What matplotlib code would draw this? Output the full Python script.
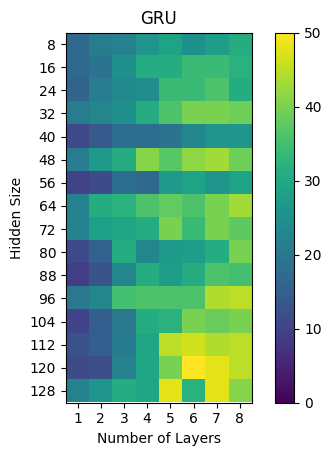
import matplotlib
matplotlib.use("Agg")
import matplotlib.pyplot as plt
import numpy as np

# Layers (columns) and hidden sizes (rows)
layers = [1, 2, 3, 4, 5, 6, 7, 8]
hidden_sizes = [8, 16, 24, 32, 40, 48, 56, 64, 72, 80, 88, 96, 104, 112, 120, 128]

# Values (rows = hidden size, columns = layers)
values = np.array([
    [17, 21, 22, 26, 29, 25, 28, 31],
    [17, 19, 25, 31, 31, 34, 34, 32],
    [16, 21, 24, 24.5, 34, 34, 36, 31],
    [21, 23, 25, 31, 36, 40, 40, 39],
    [11, 14, 18, 18, 19, 23, 26, 26],
    [21, 27, 31, 41, 37, 41.5, 43, 39],
    [10, 11.5, 18, 17, 27, 29, 26, 29],
    [22, 31, 32, 36, 38, 36, 40, 43],
    [22, 28.5, 29.5, 31, 40, 34, 40, 37.5],
    [11, 15.5, 31, 23, 27, 28, 31, 40],
    [9, 13, 23, 31, 28, 31, 36, 35],
    [20, 23, 35, 36, 36, 36, 44, 45],
    [10, 15, 20, 31, 32, 40, 38.5, 40],
    [12.5, 15, 20.5, 29.5, 45, 46.5, 44, 45],
    [11.5, 12, 22, 29.5, 40, 50, 48, 45],
    [22, 26, 31, 29.5, 48, 32, 48, 41],
])

W, H = 331, 455
fig = plt.figure(figsize=(W / 100, H / 100), dpi=100)
ax = fig.add_axes([66 / W, 1 - 402.5 / H, 185.5 / W, 370 / H])
cax = fig.add_axes([275.3 / W, 1 - 402.5 / H, 19 / W, 370 / H])

im = ax.imshow(values, cmap='viridis', vmin=0, vmax=50, aspect='auto')
ax.set_xticks(range(len(layers)))
ax.set_xticklabels(layers)
ax.set_yticks(range(len(hidden_sizes)))
ax.set_yticklabels(hidden_sizes)
ax.set_xlabel('Number of Layers')
ax.set_ylabel('Hidden Size')
ax.set_title('GRU')

fig.colorbar(im, cax=cax, ticks=[0, 10, 20, 30, 40, 50])

fig.savefig('out.png', dpi=100)
